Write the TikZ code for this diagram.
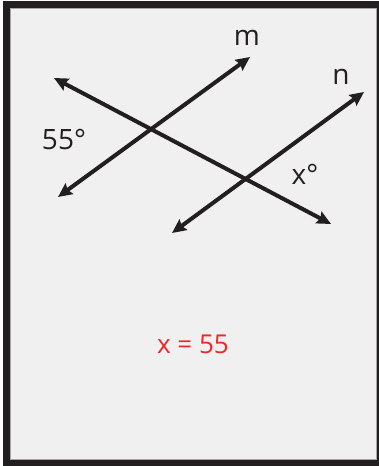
\documentclass[tikz,border=0pt]{standalone}
\usepackage{fontspec}
\setmainfont{Open Sans}
\usetikzlibrary{arrows.meta}
\definecolor{framecol}{RGB}{35,31,32}
\definecolor{paper}{RGB}{240,240,240}
\definecolor{answer}{RGB}{237,40,40}
\tikzset{
  line/.style={line width=4pt, {Stealth[length=14pt,width=13pt,inset=2pt]}-{Stealth[length=14pt,width=13pt,inset=2pt]}, color=framecol},
  lbl/.style={font=\fontsize{28}{32}\selectfont, text=framecol, inner sep=0pt}
}
\begin{document}
\begin{tikzpicture}[x=1pt,y=-1pt]
  \useasboundingbox (0,0) rectangle (379,466);
  \fill[framecol] (3,1) rectangle (379,466);
  \fill[paper, draw=gray!70, line width=0.6pt] (10,8) rectangle (376.5,459);
  % the three lines
  \coordinate (m1) at (58,197);
  \coordinate (m2) at (250,57);
  \coordinate (n1) at (172,233);
  \coordinate (n2) at (364,92);
  \coordinate (t1) at (54,78);
  \coordinate (t2) at (331,224);
  \draw[line] (m1) -- (m2);
  \draw[line] (n1) -- (n2);
  \draw[line] (t1) -- (t2);
  % labels
  \node[lbl] (m) at (247,38) {m};
  \node[lbl] (n) at (341,77) {n};
  \node[lbl] (a) at (64,139) {55°};
  \node[lbl] (x) at (305,174) {x°};
  \node[lbl, font=\fontsize{26}{30}\selectfont, text=answer] (ans) at (193,344) {x = 55};
\end{tikzpicture}
\end{document}
